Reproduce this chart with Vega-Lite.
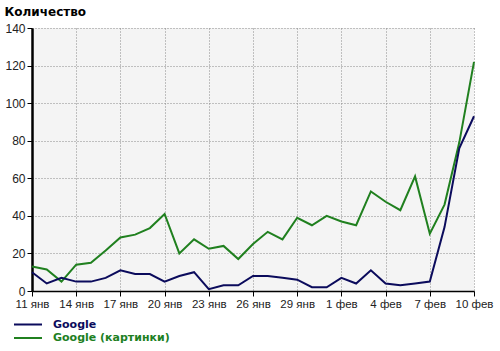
{
  "$schema": "https://vega.github.io/schema/vega-lite/v6.json",
  "autosize": "none",
  "width": 442,
  "height": 263,
  "padding": {"left": 32, "top": 28, "right": 26, "bottom": 60},
  "background": "#ffffff",
  "config": {
    "view": {"fill": "#f4f4f4", "stroke": null},
    "axis": {
      "labelFont": "Liberation Sans",
      "labelFontSize": 12,
      "labelColor": "#222222",
      "gridColor": "#8a8a8a",
      "gridDash": [1, 2],
      "gridWidth": 1,
      "gridOpacity": 1,
      "domainColor": "#000000",
      "tickColor": "#000000",
      "tickSize": 5
    }
  },
  "data": {
    "values": [
      {"date": "2010-01-11T00:00:00", "series": "Google (картинки)", "value": 13},
      {"date": "2010-01-12T00:00:00", "series": "Google (картинки)", "value": 11.5},
      {"date": "2010-01-13T00:00:00", "series": "Google (картинки)", "value": 5},
      {"date": "2010-01-14T00:00:00", "series": "Google (картинки)", "value": 14},
      {"date": "2010-01-15T00:00:00", "series": "Google (картинки)", "value": 15},
      {"date": "2010-01-16T00:00:00", "series": "Google (картинки)", "value": 21.5},
      {"date": "2010-01-17T00:00:00", "series": "Google (картинки)", "value": 28.5},
      {"date": "2010-01-18T00:00:00", "series": "Google (картинки)", "value": 30},
      {"date": "2010-01-19T00:00:00", "series": "Google (картинки)", "value": 33.5},
      {"date": "2010-01-20T00:00:00", "series": "Google (картинки)", "value": 41},
      {"date": "2010-01-21T00:00:00", "series": "Google (картинки)", "value": 20},
      {"date": "2010-01-22T00:00:00", "series": "Google (картинки)", "value": 27.5},
      {"date": "2010-01-23T00:00:00", "series": "Google (картинки)", "value": 22.5},
      {"date": "2010-01-24T00:00:00", "series": "Google (картинки)", "value": 24},
      {"date": "2010-01-25T00:00:00", "series": "Google (картинки)", "value": 17},
      {"date": "2010-01-26T00:00:00", "series": "Google (картинки)", "value": 25},
      {"date": "2010-01-27T00:00:00", "series": "Google (картинки)", "value": 31.5},
      {"date": "2010-01-28T00:00:00", "series": "Google (картинки)", "value": 27.5},
      {"date": "2010-01-29T00:00:00", "series": "Google (картинки)", "value": 39},
      {"date": "2010-01-30T00:00:00", "series": "Google (картинки)", "value": 35},
      {"date": "2010-01-31T00:00:00", "series": "Google (картинки)", "value": 40},
      {"date": "2010-02-01T00:00:00", "series": "Google (картинки)", "value": 37},
      {"date": "2010-02-02T00:00:00", "series": "Google (картинки)", "value": 35},
      {"date": "2010-02-03T00:00:00", "series": "Google (картинки)", "value": 53},
      {"date": "2010-02-04T00:00:00", "series": "Google (картинки)", "value": 47.5},
      {"date": "2010-02-05T00:00:00", "series": "Google (картинки)", "value": 43},
      {"date": "2010-02-06T00:00:00", "series": "Google (картинки)", "value": 61},
      {"date": "2010-02-07T00:00:00", "series": "Google (картинки)", "value": 30.5},
      {"date": "2010-02-08T00:00:00", "series": "Google (картинки)", "value": 46},
      {"date": "2010-02-09T00:00:00", "series": "Google (картинки)", "value": 79},
      {"date": "2010-02-10T00:00:00", "series": "Google (картинки)", "value": 122},
      {"date": "2010-01-11T00:00:00", "series": "Google", "value": 10},
      {"date": "2010-01-12T00:00:00", "series": "Google", "value": 4},
      {"date": "2010-01-13T00:00:00", "series": "Google", "value": 7},
      {"date": "2010-01-14T00:00:00", "series": "Google", "value": 5},
      {"date": "2010-01-15T00:00:00", "series": "Google", "value": 5},
      {"date": "2010-01-16T00:00:00", "series": "Google", "value": 7},
      {"date": "2010-01-17T00:00:00", "series": "Google", "value": 11},
      {"date": "2010-01-18T00:00:00", "series": "Google", "value": 9},
      {"date": "2010-01-19T00:00:00", "series": "Google", "value": 9},
      {"date": "2010-01-20T00:00:00", "series": "Google", "value": 5},
      {"date": "2010-01-21T00:00:00", "series": "Google", "value": 8},
      {"date": "2010-01-22T00:00:00", "series": "Google", "value": 10},
      {"date": "2010-01-23T00:00:00", "series": "Google", "value": 1},
      {"date": "2010-01-24T00:00:00", "series": "Google", "value": 3},
      {"date": "2010-01-25T00:00:00", "series": "Google", "value": 3},
      {"date": "2010-01-26T00:00:00", "series": "Google", "value": 8},
      {"date": "2010-01-27T00:00:00", "series": "Google", "value": 8},
      {"date": "2010-01-28T00:00:00", "series": "Google", "value": 7},
      {"date": "2010-01-29T00:00:00", "series": "Google", "value": 6},
      {"date": "2010-01-30T00:00:00", "series": "Google", "value": 2},
      {"date": "2010-01-31T00:00:00", "series": "Google", "value": 2},
      {"date": "2010-02-01T00:00:00", "series": "Google", "value": 7},
      {"date": "2010-02-02T00:00:00", "series": "Google", "value": 4},
      {"date": "2010-02-03T00:00:00", "series": "Google", "value": 11},
      {"date": "2010-02-04T00:00:00", "series": "Google", "value": 4},
      {"date": "2010-02-05T00:00:00", "series": "Google", "value": 3},
      {"date": "2010-02-06T00:00:00", "series": "Google", "value": 4},
      {"date": "2010-02-07T00:00:00", "series": "Google", "value": 5},
      {"date": "2010-02-08T00:00:00", "series": "Google", "value": 34},
      {"date": "2010-02-09T00:00:00", "series": "Google", "value": 76},
      {"date": "2010-02-10T00:00:00", "series": "Google", "value": 93}
    ]
  },
  "mark": {"type": "line", "strokeWidth": 2},
  "encoding": {
    "x": {
      "field": "date",
      "type": "temporal",
      "scale": {"domain": [{"year": 2010, "month": 1, "date": 11}, {"year": 2010, "month": 2, "date": 10}]},
      "axis": {
        "title": null,
        "values": [
          {"year": 2010, "month": 1, "date": 11},
          {"year": 2010, "month": 1, "date": 14},
          {"year": 2010, "month": 1, "date": 17},
          {"year": 2010, "month": 1, "date": 20},
          {"year": 2010, "month": 1, "date": 23},
          {"year": 2010, "month": 1, "date": 26},
          {"year": 2010, "month": 1, "date": 29},
          {"year": 2010, "month": 2, "date": 1},
          {"year": 2010, "month": 2, "date": 4},
          {"year": 2010, "month": 2, "date": 7},
          {"year": 2010, "month": 2, "date": 10}
        ],
        "labelExpr": "date(datum.value) + ' ' + (month(datum.value) == 0 ? 'янв' : 'фев')",
        "labelFontSize": 11.5,
        "labelPadding": 2,
        "labelFlush": false,
        "labelOverlap": false,
        "domainWidth": 1.5,
        "grid": true
      }
    },
    "y": {
      "field": "value",
      "type": "quantitative",
      "scale": {"domain": [0, 140], "nice": false},
      "axis": {
        "values": [0, 20, 40, 60, 80, 100, 120, 140],
        "title": "Количество",
        "titleAngle": 0,
        "titleAlign": "left",
        "titleBaseline": "middle",
        "titleX": -28,
        "titleY": -17,
        "titleFont": "DejaVu Sans",
        "titleFontSize": 12,
        "titleFontWeight": "bold",
        "titleColor": "#000000",
        "domainWidth": 2.5,
        "labelPadding": 2,
        "grid": true
      }
    },
    "color": {
      "field": "series",
      "type": "nominal",
      "scale": {"domain": ["Google", "Google (картинки)"], "range": ["#0b0b5c", "#20801f"]},
      "legend": {
        "title": null,
        "orient": "none",
        "legendX": -19,
        "legendY": 290,
        "padding": 0,
        "symbolType": "stroke",
        "symbolSize": 784,
        "symbolStrokeWidth": 2,
        "clipHeight": 13,
        "rowPadding": 0.5,
        "labelOffset": 10,
        "labelFont": "DejaVu Sans",
        "labelFontSize": 11,
        "labelFontWeight": "bold",
        "encode": {
          "labels": {"update": {"fill": {"signal": "datum.value === 'Google' ? '#0b0b5c' : '#20801f'"}}}
        }
      }
    }
  }
}
